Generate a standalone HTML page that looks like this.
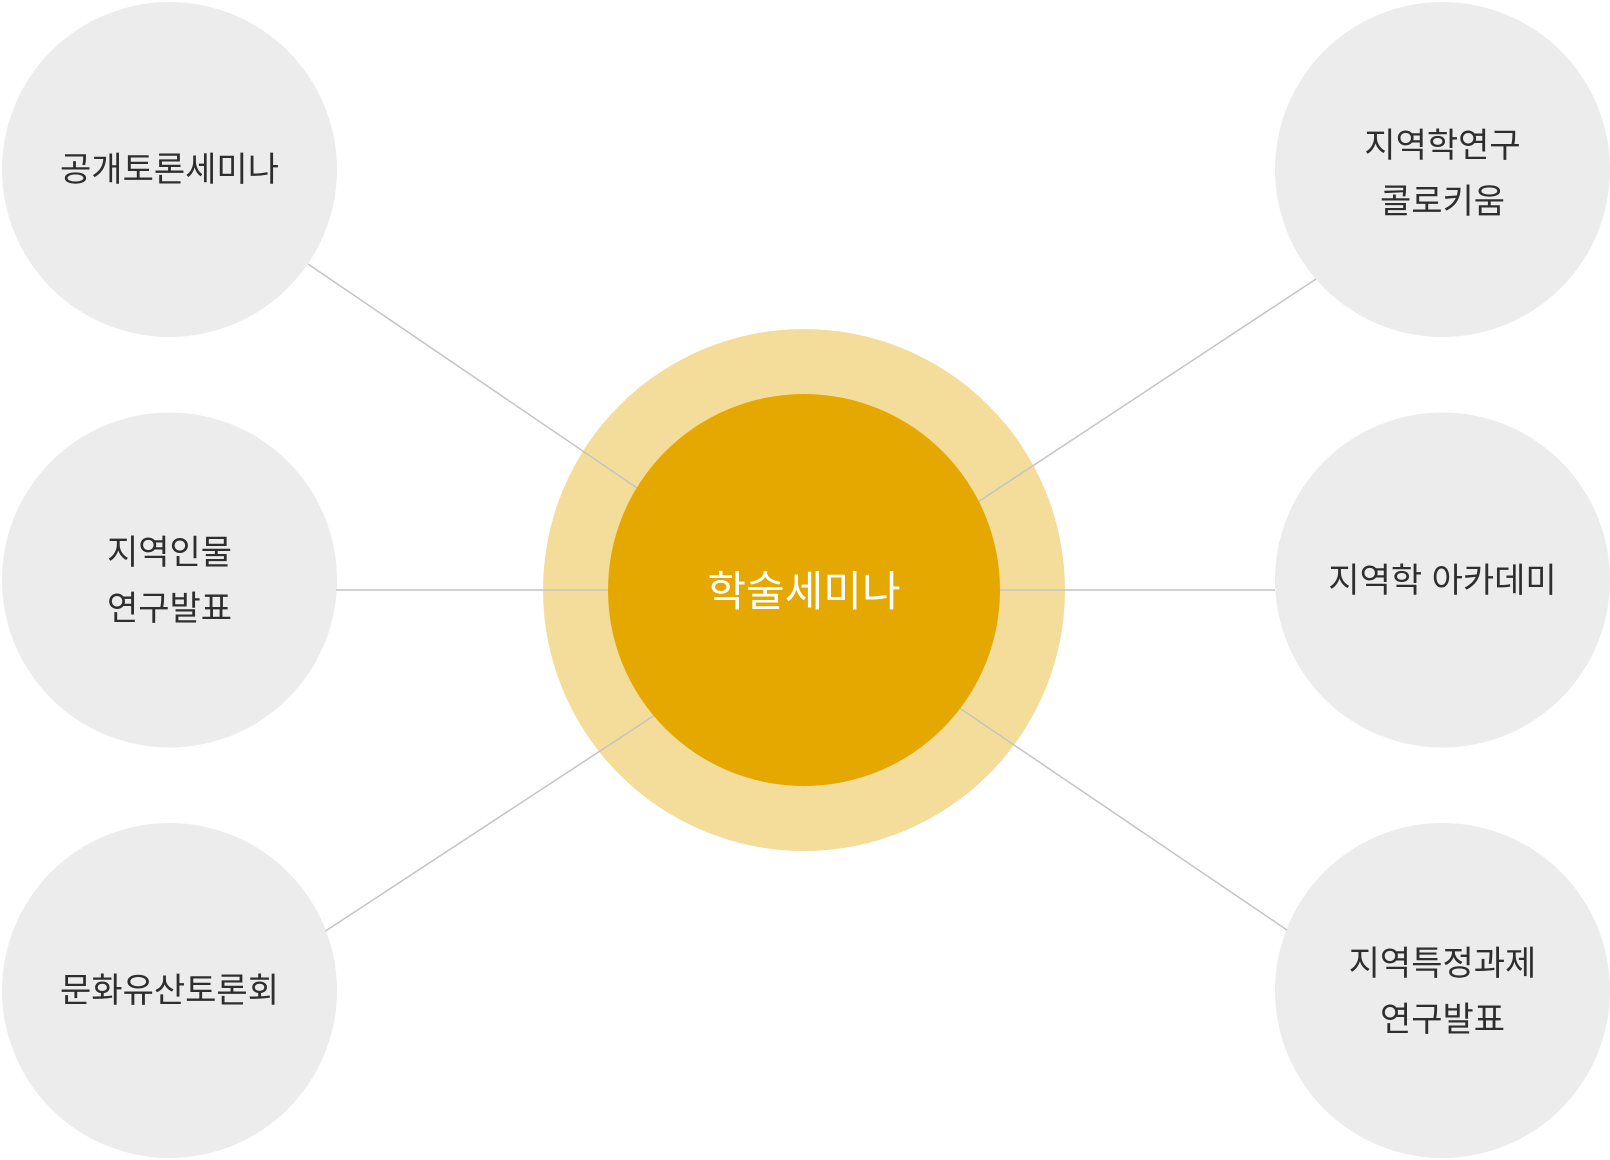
<!DOCTYPE html>
<html><head><meta charset="utf-8"><style>
html,body{margin:0;padding:0;background:#fff;}
svg{display:block;}
text{font-family:"Liberation Sans","Noto Sans CJK KR","NanumGothic",sans-serif;}
</style></head><body>
<svg width="1610" height="1160" viewBox="0 0 1610 1160" xmlns="http://www.w3.org/2000/svg">
<g fill="#ececec">
<circle cx="169.5" cy="169.5" r="167.5"/>
<circle cx="169.5" cy="580" r="167.5"/>
<circle cx="169.5" cy="990.5" r="167.5"/>
<circle cx="1442.5" cy="169.5" r="167.5"/>
<circle cx="1442.5" cy="580" r="167.5"/>
<circle cx="1442.5" cy="990.5" r="167.5"/>
</g>
<circle cx="804" cy="590" r="261" fill="#f4dc9a"/>
<g stroke="#c4c4c4" stroke-width="1.5">
<line x1="308" y1="264" x2="640" y2="490"/>
<line x1="336" y1="590" x2="610" y2="590"/>
<line x1="325.5" y1="931" x2="655" y2="715"/>
<line x1="1316" y1="279" x2="978" y2="502"/>
<line x1="997" y1="590" x2="1275" y2="590"/>
<line x1="958" y1="707" x2="1287" y2="930"/>
</g>
<circle cx="804" cy="590" r="196" fill="#e5a800"/>
<g fill="#2e2e2e" font-size="34" text-anchor="middle">
<text x="169.5" y="181">공개토론세미나</text>
<text x="169.5" y="564">지역인물</text>
<text x="169.5" y="620">연구발표</text>
<text x="169.5" y="1002">문화유산토론회</text>
<text x="1442.5" y="157">지역학연구</text>
<text x="1442.5" y="213">콜로키움</text>
<text x="1442.5" y="592">지역학 아카데미</text>
<text x="1442.5" y="975">지역특정과제</text>
<text x="1442.5" y="1031">연구발표</text>
</g>
<text x="804" y="606" fill="#fff" font-size="42" text-anchor="middle">학술세미나</text>
</svg>
</body></html>
